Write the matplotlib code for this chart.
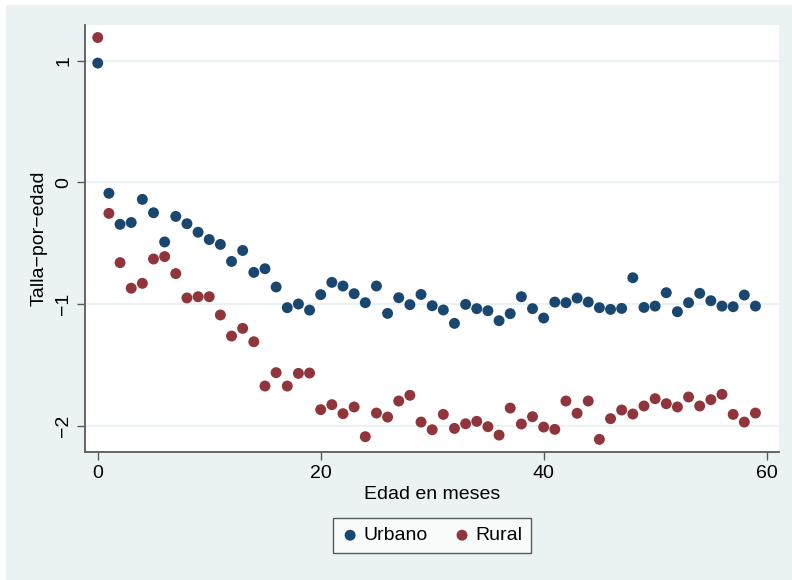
import matplotlib
matplotlib.use("Agg")
import matplotlib.pyplot as plt
from matplotlib.patches import Rectangle

# Age in months
edad = list(range(60))

# Mean height-for-age z-score by area
urbano = [0.98, -0.09, -0.345, -0.33, -0.14, -0.25, -0.49, -0.28, -0.34, -0.41,
          -0.47, -0.51, -0.65, -0.56, -0.74, -0.71, -0.86, -1.03, -1.00, -1.05,
          -0.923, -0.822, -0.852, -0.915, -0.989, -0.852, -1.077, -0.948, -1.005, -0.921,
          -1.014, -1.049, -1.159, -1.003, -1.038, -1.055, -1.137, -1.079, -0.940, -1.038,
          -1.115, -0.984, -0.989, -0.951, -0.984, -1.030, -1.044, -1.036, -0.784, -1.028,
          -1.017, -0.907, -1.063, -0.989, -0.912, -0.973, -1.017, -1.022, -0.926, -1.017]

rural = [1.19, -0.255, -0.66, -0.87, -0.83, -0.63, -0.61, -0.75, -0.95, -0.94,
         -0.94, -1.09, -1.263, -1.20, -1.31, -1.674, -1.564, -1.674, -1.57, -1.567,
         -1.868, -1.827, -1.901, -1.846, -2.09, -1.896, -1.929, -1.797, -1.75, -1.97,
         -2.033, -1.907, -2.022, -1.984, -1.964, -2.008, -2.077, -1.855, -1.986, -1.926,
         -2.011, -2.03, -1.797, -1.898, -1.797, -2.112, -1.942, -1.871, -1.904, -1.838,
         -1.778, -1.819, -1.846, -1.764, -1.838, -1.786, -1.742, -1.907, -1.97, -1.896]

xticks = [0, 20, 40, 60]
yticks = [-2, -1, 0, 1]

BG = "#EAF2F3"
BLUE = "#1A476F"
RED = "#90353B"
AXCOL = "#5A5A5A"
FS = 14

plt.rcParams["font.family"] = ["Liberation Sans", "DejaVu Sans"]

W, H = 792, 580
fig = plt.figure(figsize=(W / 100, H / 100), dpi=100, facecolor=BG)

# thin white margin along the top and left edges
fig.patches.append(Rectangle((0, 0), 6 / W, 1, transform=fig.transFigure,
                             facecolor="white", edgecolor="none", zorder=-10))
fig.patches.append(Rectangle((0, 1 - 5 / H), 1, 5 / H, transform=fig.transFigure,
                             facecolor="white", edgecolor="none", zorder=-10))

left, right, top, bottom = 84.5, 779.3, 25, 452
ax = fig.add_axes([left / W, 1 - bottom / H, (right - left) / W, (bottom - top) / H])
ax.set_facecolor("white")

ax.scatter(edad, urbano, s=62, color=BLUE, edgecolors="none", label="Urbano", zorder=3)
ax.scatter(edad, rural, s=62, color=RED, edgecolors="none", label="Rural", zorder=3)

ax.set_xlim(-1.19, 61.14)
ax.set_ylim(-2.216, 1.293)
ax.set_xticks(xticks)
ax.set_yticks(yticks)
ax.grid(axis="y", color=BG, linewidth=1.6, zorder=1)
ax.set_axisbelow(True)

for s in ["top", "right"]:
    ax.spines[s].set_visible(False)
for s in ["left", "bottom"]:
    ax.spines[s].set_color(AXCOL)
    ax.spines[s].set_linewidth(1.3)

ax.tick_params(axis="both", color=AXCOL, width=1.0, length=6, labelsize=FS,
               labelcolor="black", pad=3)
ax.tick_params(axis="y", labelrotation=90)
for lbl in ax.get_yticklabels():
    lbl.set_va("center")

ax.set_xlabel("Edad en meses", fontsize=FS, labelpad=3)
ax.set_ylabel("Talla\u2212por\u2212edad", fontsize=FS, labelpad=5)

leg = ax.legend(loc="center", bbox_to_anchor=(432 / W, 1 - 535.5 / H),
                bbox_transform=fig.transFigure, ncol=2, fontsize=FS,
                frameon=True, fancybox=False, edgecolor="#333333",
                handletextpad=0.25, columnspacing=1.3, borderpad=0.45,
                handlelength=0.9, borderaxespad=0)
leg.get_frame().set_linewidth(1.0)
leg.get_frame().set_facecolor("white")

fig.savefig("out.png", dpi=100, facecolor=fig.get_facecolor())
